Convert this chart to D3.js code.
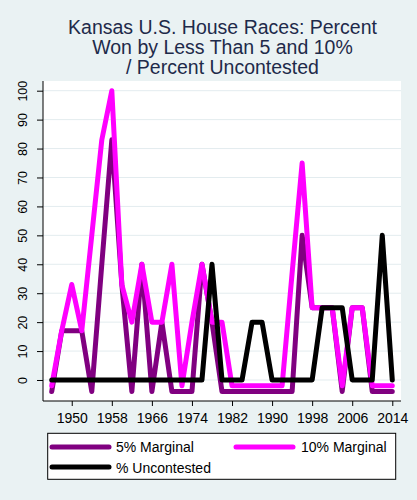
<!DOCTYPE html>
<html>
<head>
<meta charset="utf-8">
<script src="https://cdn.jsdelivr.net/npm/d3@7"></script>
<style>
  html, body { margin: 0; padding: 0; background: #eaf2f3; }
  svg { display: block; font-family: "Liberation Sans", Arial, sans-serif; }
</style>
</head>
<body>
<svg id="chart" width="417" height="500"></svg>
<script>
const years = [1946,1948,1950,1952,1954,1956,1958,1960,1962,1964,1966,1968,1970,1972,1974,1976,1978,1980,1982,1984,1986,1988,1990,1992,1994,1996,1998,2000,2002,2004,2006,2008,2010,2012,2014];
const marginal5 = [-4,17,17,17,-4,40,83,33,-4,40,-4,20,-4,-4,-4,40,20,-4,-4,-4,-4,-4,-4,-4,-4,50,25,25,25,-4,25,25,-4,-4,-4];
const marginal10 = [-2,17,33,17,50,83,100,33,20,40,20,20,40,-2,20,40,20,20,-2,-2,-2,-2,-2,-2,37,75,25,25,25,-2,25,25,-2,-2,-2];
const uncontested = [0,0,0,0,0,0,0,0,0,0,0,0,0,0,0,0,40,0,0,0,20,20,0,0,0,0,0,25,25,25,0,0,0,50,0];
const xTicks = [1950,1958,1966,1974,1982,1990,1998,2006,2014];
const yTicks = [0,10,20,30,40,50,60,70,80,90,100];
const titleLines = ["Kansas U.S. House Races: Percent", "Won by Less Than 5 and 10%", "/ Percent Uncontested"];
const seriesNames = ["5% Marginal", "10% Marginal", "% Uncontested"];
const seriesColors = ["#800080", "#ff00ff", "#000000"];

const svg = d3.select("#chart");
const plot = {left: 43, right: 401, top: 81, bottom: 401};

const x = d3.scaleLinear().domain([1944.26, 2015.74]).range([plot.left, plot.right]);
const y = d3.scaleLinear().domain([-7.26, 103.35]).range([plot.bottom, plot.top]);

// background
svg.append("rect").attr("x", 0).attr("y", 0).attr("width", 417).attr("height", 500).attr("fill", "#eaf2f3");
svg.append("rect").attr("x", plot.left).attr("y", plot.top)
  .attr("width", plot.right - plot.left).attr("height", plot.bottom - plot.top).attr("fill", "#ffffff");

// title
svg.append("g").selectAll("text").data(titleLines).join("text")
  .attr("x", 222.5).attr("y", (d, i) => 34.3 + i * 20)
  .attr("text-anchor", "middle").attr("font-size", "19.5px").attr("fill", "#1e2a4a")
  .text(d => d);

// grid
svg.append("g").selectAll("line").data(yTicks).join("line")
  .attr("x1", plot.left).attr("x2", plot.right)
  .attr("y1", d => y(d)).attr("y2", d => y(d))
  .attr("stroke", "#e3ecef").attr("stroke-width", 1);

// y axis
const yAxis = svg.append("g").attr("transform", `translate(${plot.left},0)`)
  .call(d3.axisLeft(y).tickValues(yTicks).tickSize(6).tickSizeOuter(0).tickFormat(d3.format("d")));
yAxis.select(".domain").remove();
yAxis.selectAll(".tick line").attr("stroke", "#000");
yAxis.selectAll(".tick text")
  .attr("font-size", "12.5px").attr("fill", "#000")
  .attr("text-anchor", "middle")
  .attr("x", null).attr("dy", null)
  .attr("transform", "translate(-16,0) rotate(-90)");
svg.append("line").attr("x1", plot.left).attr("x2", plot.left)
  .attr("y1", plot.top).attr("y2", plot.bottom).attr("stroke", "#000").attr("stroke-width", 1);

// x axis
const xAxis = svg.append("g").attr("transform", `translate(0,${plot.bottom})`)
  .call(d3.axisBottom(x).tickValues(xTicks).tickSize(5).tickSizeOuter(0).tickFormat(d3.format("d")));
xAxis.select(".domain").remove();
xAxis.selectAll(".tick line").attr("stroke", "#000");
xAxis.selectAll(".tick text").attr("font-size", "14px").attr("fill", "#000").attr("y", 22).attr("dy", null);
svg.append("line").attr("x1", plot.left).attr("x2", plot.right)
  .attr("y1", plot.bottom).attr("y2", plot.bottom).attr("stroke", "#000").attr("stroke-width", 1);

// lines
const allSeries = [marginal5, marginal10, uncontested];
const lineGen = d3.line().x((d, i) => x(years[i])).y(d => y(d));
const lines = svg.append("g");
allSeries.forEach((s, k) => {
  lines.append("path").datum(s)
    .attr("d", lineGen)
    .attr("fill", "none").attr("stroke", seriesColors[k])
    .attr("stroke-width", 5).attr("stroke-linejoin", "round").attr("stroke-linecap", "round");
});

// legend
const lg = svg.append("g");
lg.append("rect").attr("x", 47.7).attr("y", 433.3).attr("width", 348).attr("height", 46)
  .attr("fill", "#fff").attr("stroke", "#000").attr("stroke-width", 1);
const legPos = [{lx: 52, ly: 447, tx: 116, ty: 452}, {lx: 236, ly: 447, tx: 301, ty: 452}, {lx: 52, ly: 467, tx: 116, ty: 473}];
seriesNames.forEach((n, k) => {
  const p = legPos[k];
  lg.append("line").attr("x1", p.lx).attr("x2", p.lx + 57).attr("y1", p.ly).attr("y2", p.ly)
    .attr("stroke", seriesColors[k]).attr("stroke-width", 5).attr("stroke-linecap", "round");
  lg.append("text").attr("x", p.tx).attr("y", p.ty).attr("font-size", "14px").attr("fill", "#000").text(n);
});
</script>
</body>
</html>
